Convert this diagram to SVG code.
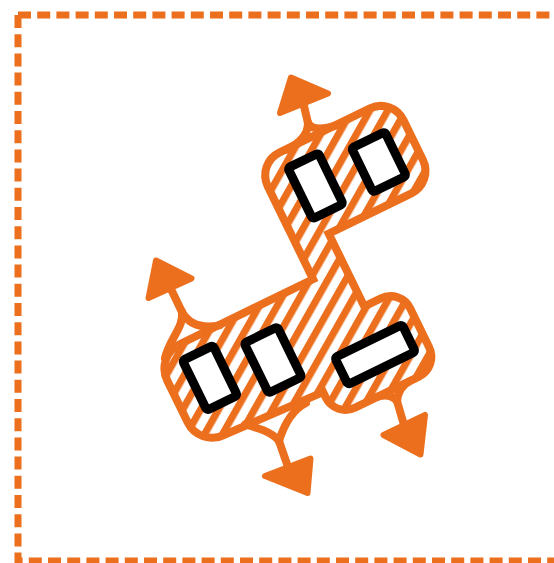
<svg xmlns="http://www.w3.org/2000/svg" width="554" height="563" viewBox="0 0 554 563">
<defs>
<pattern id="hatch" patternUnits="userSpaceOnUse" width="15.6" height="15.6" patternTransform="rotate(55.5)">
<rect width="15.6" height="15.6" fill="#fff"/>
<rect width="7.2" height="15.6" fill="#ec6f1e"/>
</pattern>
<g id="blob">
<rect x="20.5" y="-128.5" width="143" height="86.5" rx="21"/>
<rect x="20.5" y="-60" width="26" height="110"/>
<path d="M -132,0 H 46 V 101 L -132,93 A 23 23 0 0 1 -155,70 V 23 A 23 23 0 0 1 -132,0 Z"/>
<rect x="-20" y="47" width="107" height="79" rx="18"/>
</g>
</defs>
<style>
.box{fill:#fff;stroke:#000;stroke-width:9;stroke-linejoin:round}
.stem{fill:none;stroke:#ec6f1e;stroke-width:8;stroke-linecap:round}
.head{fill:#ec6f1e;stroke:#ec6f1e;stroke-width:6;stroke-linejoin:round}
.border{fill:none;stroke:#ec6f1e;stroke-width:7;stroke-dasharray:13 6.2}
</style>
<g id="frame">
<path class="border" d="M18 15 H570"/>
<path class="border" d="M18 15 V561 H570"/>
</g>
<g id="room" transform="translate(300 290) rotate(-26)">
<use href="#blob" fill="none" stroke="#ec6f1e" stroke-width="16" stroke-linejoin="round"/>
<use href="#blob" fill="url(#hatch)"/>
</g>
<g id="box-a" transform="translate(300 290) rotate(-26)"><rect class="box" x="42.5" y="-115" width="34" height="56.5" rx="2.5"/></g>
<g id="box-b" transform="translate(300 290) rotate(-26)"><rect class="box" x="108.5" y="-105" width="37" height="49" rx="2.5"/></g>
<g id="box-c" transform="translate(300 290) rotate(-26)"><rect class="box" x="-136.5" y="11.8" width="34" height="55.5" rx="2.5"/></g>
<g id="box-d" transform="translate(300 290) rotate(-26)"><rect class="box" x="-73.5" y="23.3" width="37" height="55.5" rx="2.5"/></g>
<g id="box-e" transform="translate(300 290) rotate(-26)"><rect class="box" x="1.6" y="76" width="75" height="30" rx="2.5"/></g>
<g id="connectors">
<g id="arrow-top">
<polygon class="head" points="291,77.5 328,93.5 280,113"/>
<path class="stem" d="M303.5,104 L308,123"/>
<path class="stem" d="M308,123 C308,136 298,144 287,149.5"/>
<path class="stem" d="M308,123 C312,130 322,130 336.5,125.4"/>
</g>
<g id="arrow-left">
<polygon class="head" points="156,260.5 191.5,278.5 148.5,298"/>
<path class="stem" d="M170,287 L182,312"/>
<path class="stem" d="M182,312 C184,327 170,338 165,358"/>
<path class="stem" d="M182,312 C188,323 200,329 219.4,325.4"/>
</g>
<g id="arrow-bottom">
<polygon class="head" points="310.5,458.5 307.5,493 265,476"/>
<path class="stem" d="M288,467 L279,441"/>
<path class="stem" d="M279,441 C272,432 258,428 245,424.5"/>
<path class="stem" d="M279,441 C284,425 292,410 306,403"/>
</g>
<g id="arrow-right">
<polygon class="head" points="383.5,435 425,415 420.5,454.5"/>
<path class="stem" d="M404,425 L397,401"/>
<path class="stem" d="M397,401 C392,395 384,394 374.8,397.6"/>
<path class="stem" d="M397,401 C398,392 402,385 410,381"/>
</g>
</g>
</svg>
